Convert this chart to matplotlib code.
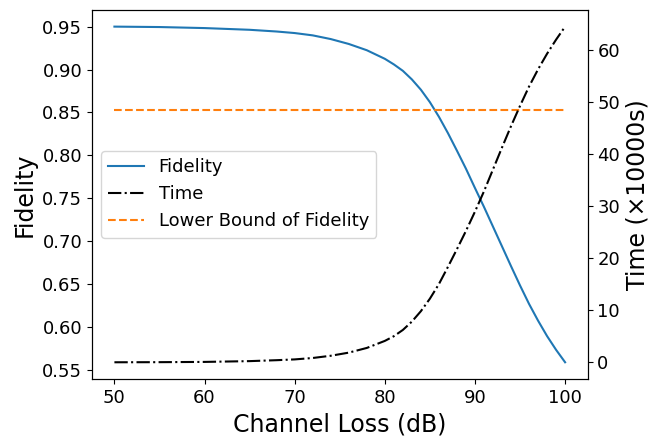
import matplotlib
matplotlib.use("Agg")
import matplotlib.pyplot as plt

channel_loss = [50, 55, 60, 65, 68, 70, 72, 74, 76, 78, 80, 81, 82, 83, 84, 85, 86,
                87, 88, 89, 90, 91, 92, 93, 94, 95, 96, 97, 98, 99, 100]
fidelity = [0.9500, 0.9495, 0.9483, 0.9463, 0.9443, 0.9425, 0.9398, 0.9355, 0.9298,
            0.9225, 0.9125, 0.9060, 0.8985, 0.8885, 0.8765, 0.8620, 0.8450,
            0.8260, 0.8055, 0.7845, 0.7620, 0.7400, 0.7170, 0.6940, 0.6710,
            0.6485, 0.6270, 0.6075, 0.5895, 0.5735, 0.5590]
time_1e4s = [0.0, 0.02, 0.07, 0.22, 0.40, 0.55, 0.82, 1.25, 1.85, 2.75, 4.10, 5.0,
             6.2, 7.8, 9.8, 12.2, 15.0, 18.3, 21.7, 25.2, 28.9, 32.8, 37.0, 41.2,
             45.3, 49.2, 52.9, 56.2, 59.2, 61.9, 64.4]
lower_bound = 0.8534

fig = plt.figure(figsize=(6.61, 4.47), dpi=100)
ax = fig.add_axes([0.139, 0.152, 0.750, 0.826])
l1, = ax.plot(channel_loss, fidelity, color='C0', lw=1.5, label='Fidelity')
l3, = ax.plot(channel_loss, [lower_bound] * len(channel_loss), '--', color='C1', lw=1.5,
              label='Lower Bound of Fidelity')
ax.set_xlabel('Channel Loss (dB)', fontsize=17)
ax.set_ylabel('Fidelity', fontsize=17)
ax.tick_params(labelsize=13)

ax2 = ax.twinx()
l2, = ax2.plot(channel_loss, time_1e4s, '-.', color='black', lw=1.5, label='Time')
ax2.set_ylabel('Time (×10000s)', fontsize=17)
ax2.tick_params(labelsize=13)

ax.legend([l1, l2, l3], ['Fidelity', 'Time', 'Lower Bound of Fidelity'],
          loc='center left', fontsize=13)

fig.savefig('out.png', dpi=100)
